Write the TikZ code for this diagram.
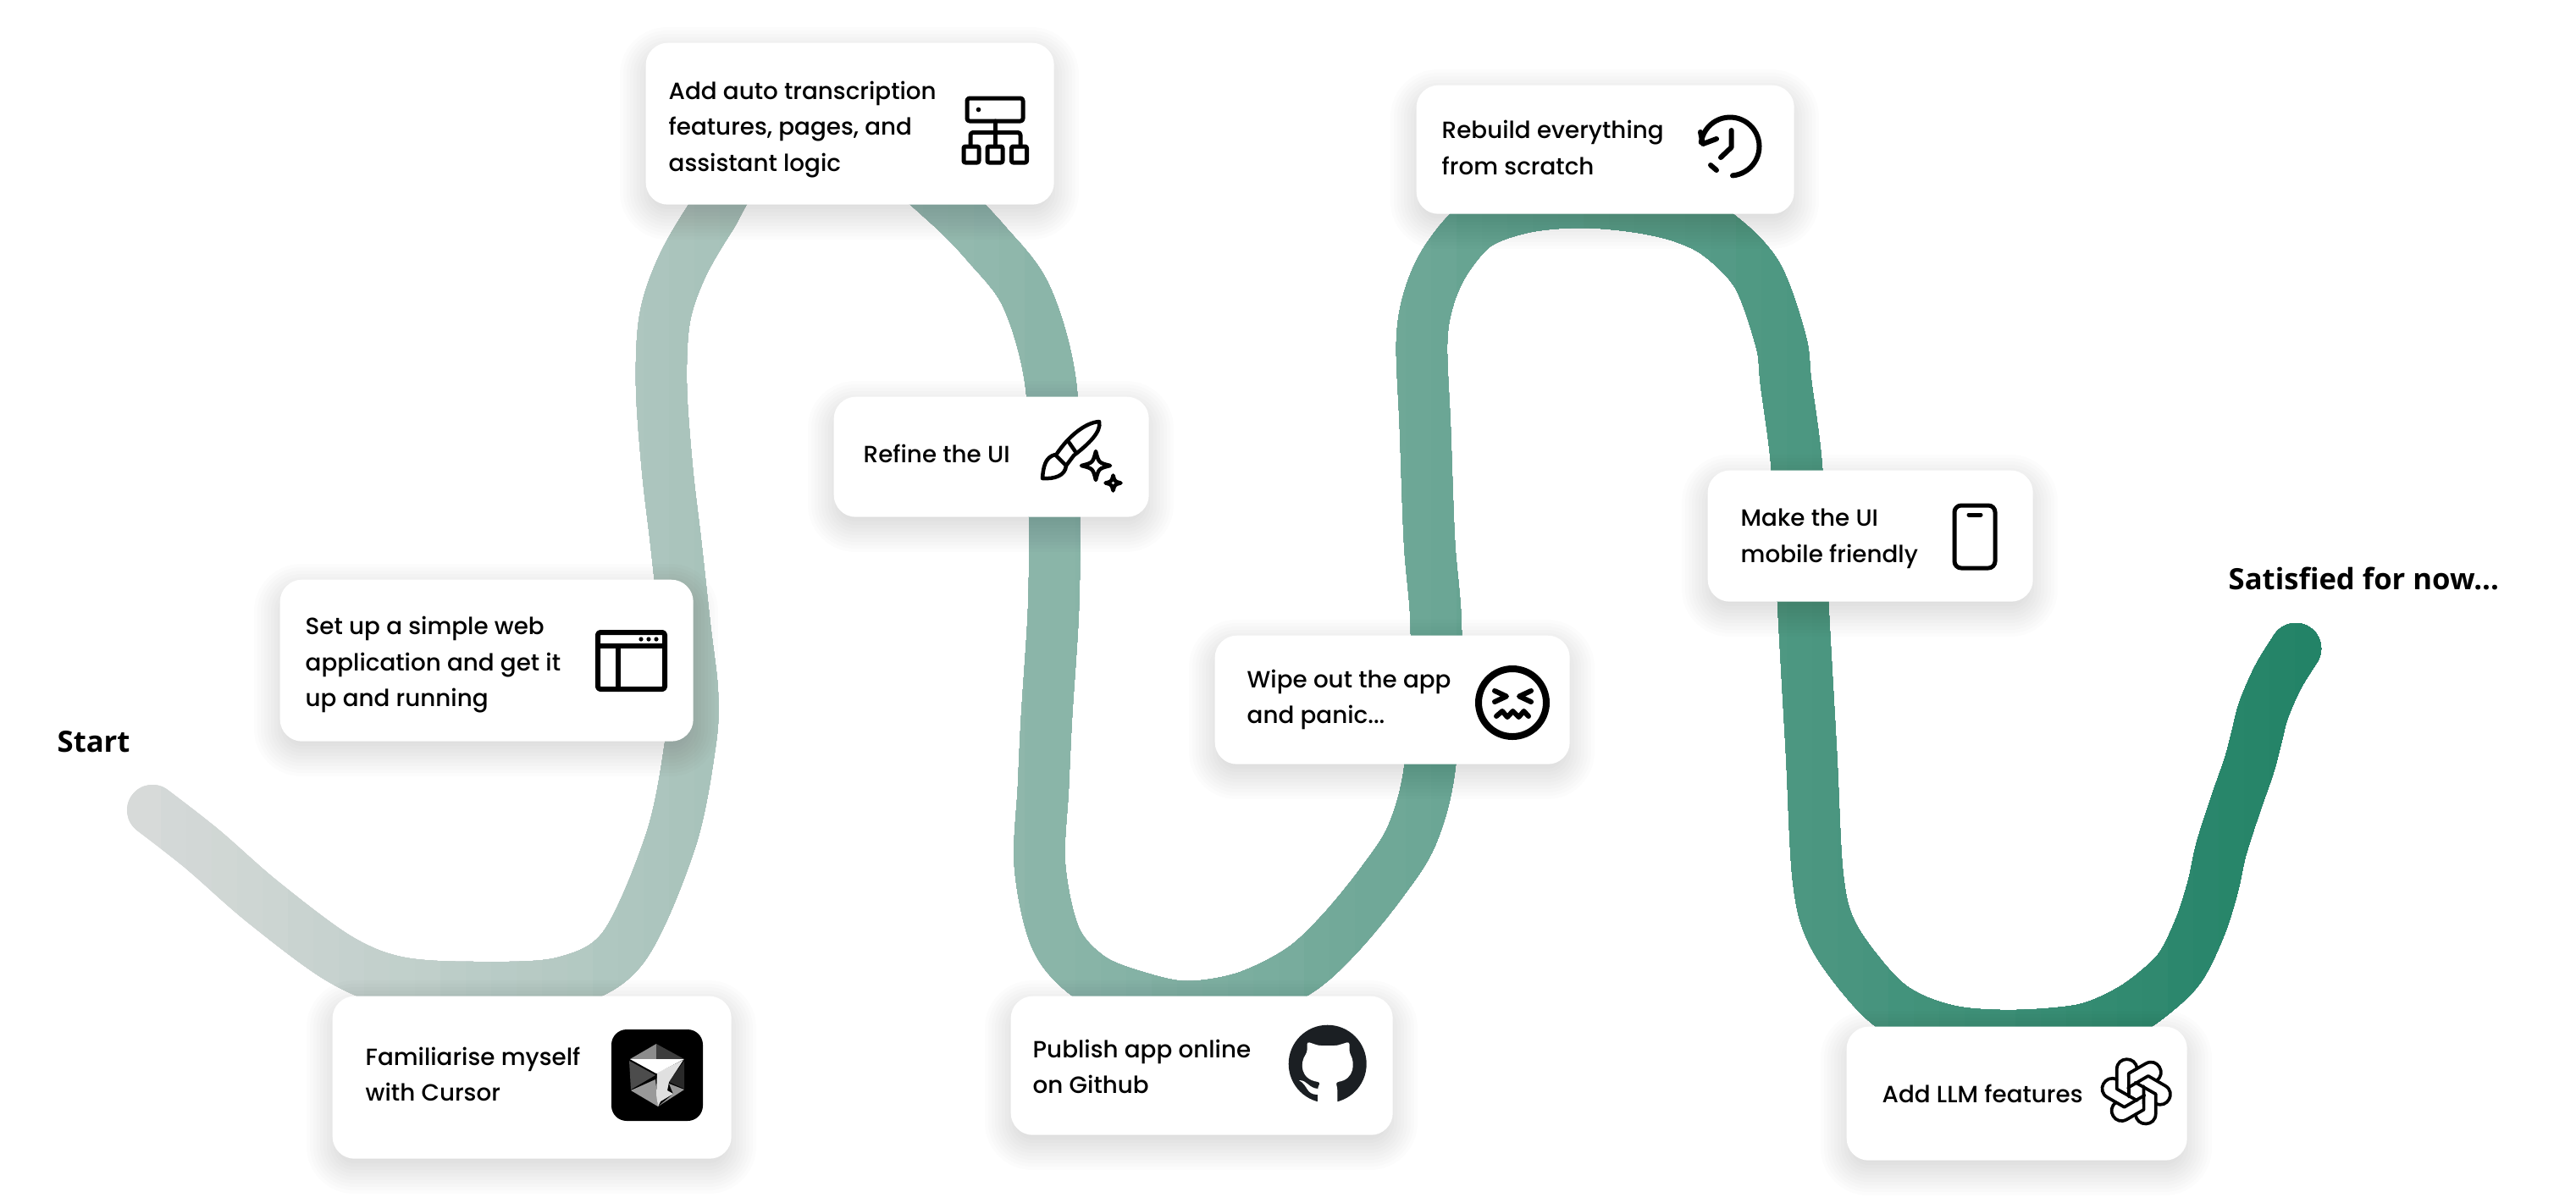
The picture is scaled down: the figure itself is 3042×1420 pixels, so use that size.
\documentclass[tikz,border=0pt]{standalone}
\usepackage{fontspec}
\setmainfont{Poppins}[UprightFont = * Medium]
\newfontfamily\labelfont{Open Sans}
\definecolor{routestart}{RGB}{215,218,217}
\definecolor{routeend}{RGB}{35,131,103}
\definecolor{octocat}{RGB}{27,31,35}
\tikzset{
	route/.style = {line width = 0.6cm, line cap = round, line join = round},
	card/.style = {fill = white, rounded corners = 0.26cm, inner sep = 0pt, anchor = north west},
	cardtext/.style = {inner sep = 0pt, anchor = base west, align = left, font = \fontsize{7.9}{11.95}\selectfont},
	endlabel/.style = {inner sep = 0pt, anchor = base west, font = \labelfont\bfseries\fontsize{9.85}{12}\selectfont},
	icon/.style = {draw = black, line width = 0.05cm, line cap = round, line join = round}
}
\def\routepath{plot[smooth, tension = 0.55] coordinates {
	(180,957) (239,1003) (310,1065) (400,1132) (470,1160) (563,1166) (666,1160) (736,1119)
	(792,993) (815,880) (818,819) (809,740) (798,640) (788,554) (781,455) (785,376) (805,316)
	(839,257) (880,200) (980,175) (1060,195) (1119,241) (1165,288) (1212,350) (1241,455)
	(1245,610) (1244,720) (1236,846) (1232,930) (1228,1023) (1247,1109) (1288,1155) (1345,1178) (1402,1189)
	(1470,1178) (1535,1146) (1582,1103) (1632,1042) (1668,985) (1689,902) (1696,749) (1688,640) (1683,506)
	(1679,404) (1688,350) (1709,305) (1745,265) (1800,245) (1865,239) (1930,244) (1985,256) (2030,278) (2075,325)
	(2103,403) (2109,452) (2122,555) (2129,710) (2139,889) (2147,1038) (2165,1105) (2214,1171)
	(2254,1201) (2310,1219) (2382,1223) (2460,1216) (2510,1196) (2545,1172) (2575,1142) (2598,1095) (2613,1048)
	(2623,1003) (2640,950) (2656,904) (2665,870) (2673,839) (2690,800) (2711,766)}}
% name, left, top, width, height
\newcommand{\card}[5]{
	\foreach \spread in {30,26,...,-10} {
		\pgfmathsetmacro{\shadowrad}{max(26 + \spread, 8)}
		\fill[black, opacity = 0.01, rounded corners = \shadowrad*0.01cm]
			(#2-\spread, #3-\spread+12) rectangle (#2+#4+\spread, #3+#5+\spread+12);
	}
	\node[card, minimum width = #4*0.01cm, minimum height = #5*0.01cm] (#1) at (#2,#3) {};
}
\newcommand{\sparkle}[3]{
	\draw[icon, line width = 0.045cm] (#1,#2-#3)
		.. controls (#1+0.2*#3,#2-0.2*#3) .. (#1+#3,#2)
		.. controls (#1+0.2*#3,#2+0.2*#3) .. (#1,#2+#3)
		.. controls (#1-0.2*#3,#2+0.2*#3) .. (#1-#3,#2)
		.. controls (#1-0.2*#3,#2-0.2*#3) .. cycle;
}
\begin{document}
\begin{tikzpicture}[x = 0.01cm, y = -0.01cm]
	\useasboundingbox (0,0) rectangle (3042,1420);
	% the route, one colour per slice
	\foreach \slicex in {100,130,...,2770} {
		\pgfmathtruncatemacro{\routemix}{min(100, max(0, (\slicex + 15 - 150)/25.5))}
		\begin{scope}
			\clip (\slicex,0) rectangle (3042,1420);
			\draw[route, color = routeend!\routemix!routestart] \routepath;
		\end{scope}
	}
	% end labels
	\node[endlabel] (start) at (67,888) {Start};
	\node[endlabel] (satisfied) at (2631,696) {Satisfied for now...};
	% cards
	\card{setup}{330}{684}{488}{191}
	\card{cursor}{392}{1176}{471}{192}
	\card{addauto}{762}{50}{482}{191}
	\card{refine}{984}{468}{372}{142}
	\card{wipe}{1434}{750}{419}{152}
	\card{github}{1193}{1176}{451}{164}
	\card{rebuild}{1672}{100}{446}{152}
	\card{mobile}{2016}{555}{384}{155}
	\card{llm}{2180}{1212}{402}{158}
	% card texts, placed by their last line
	\node[cardtext] (setuptext) at (360,834) {Set up a simple web\\application and get it\\up and running};
	\node[cardtext] (cursortext) at (431,1300) {Familiarise myself\\with Cursor};
	\node[cardtext] (addautotext) at (789,202) {Add auto transcription\\features, pages, and\\assistant logic};
	\node[cardtext] (refinetext) at (1019,546) {Refine the UI};
	\node[cardtext] (wipetext) at (1472,854) {Wipe out the app\\and panic...};
	\node[cardtext] (githubtext) at (1219,1291) {Publish app online\\on Github};
	\node[cardtext] (rebuildtext) at (1702,206) {Rebuild everything\\from scratch};
	\node[cardtext] (mobiletext) at (2055,664) {Make the UI\\mobile friendly};
	\node[cardtext] (llmtext) at (2222,1302) {Add LLM features};
	% window icon
	\draw[icon, line width = 0.06cm, rounded corners = 0.03cm] (706,747) rectangle (785,814);
	\draw[icon, line width = 0.06cm] (706,763) -- (785,763) (730,763) -- (730,814);
	\foreach \dotx in {757,766,775} {
		\fill (\dotx,755) circle (2.6);
	}
	% cursor icon
	\fill[black, rounded corners = 0.18cm] (722,1216) rectangle (830,1324);
	\fill[black!45] (775,1233) -- (744,1251) -- (775,1251) -- cycle;
	\fill[black!76] (775,1233) -- (808,1251) -- (775,1251) -- cycle;
	\fill[black!70] (743,1253) -- (774,1270) -- (745,1287) -- cycle;
	\fill[black!40] (745,1288) -- (774,1275) -- (776,1295) -- (777,1307) -- cycle;
	\fill[black!84] (808,1253) -- (808,1286) -- (790,1278) -- cycle;
	\fill[black!40] (790,1280) -- (808,1287) -- (777,1307) -- (795,1292) -- cycle;
	\fill[black!12] (776,1267) -- (807,1252) -- (790,1278) -- (788,1288) -- (795,1292) -- (780,1301) -- (777,1307) -- (775,1293) -- cycle;
	\fill[white] (744,1251) -- (808,1251) -- (775,1268) -- cycle;
	% hierarchy icon
	\draw[icon, rounded corners = 0.03cm] (1142,116) rectangle (1208,143);
	\fill (1155.5,129.5) circle (2.8);
	\draw[icon] (1175.5,143) -- (1175.5,172);
	\draw[icon, rounded corners = 0.03cm] (1146,172) -- (1146,156.5) -- (1205,156.5) -- (1205,172);
	\foreach \boxx in {1136,1164,1192.5} {
		\draw[icon, rounded corners = 0.02cm] (\boxx+2,173) rectangle (\boxx+20,192);
	}
	% brush icon
	\draw[icon, line width = 0.045cm] (1248,536) .. controls (1262,515) and (1282,499) .. (1298,498)
		.. controls (1301,510) and (1285,525) .. (1268,538) -- (1259,550);
	\draw[icon, line width = 0.045cm] (1262,522) -- (1271,535);
	\draw[icon, line width = 0.045cm] (1246,537) .. controls (1234,540) and (1232,552) .. (1231,565)
		.. controls (1245,566) and (1258,562) .. (1259,550) -- cycle;
	\sparkle{1294}{550}{17}
	\sparkle{1314.5}{570.5}{9}
	% face icon
	\draw[icon, line width = 0.08cm] (1786,830) circle (40);
	\draw[icon, line width = 0.06cm] (1765,816) -- (1779,822.5) -- (1765,829);
	\draw[icon, line width = 0.06cm] (1808,816) -- (1794,822.5) -- (1808,829);
	\draw[icon, line width = 0.06cm] (1767,846) -- (1774,840) -- (1780,847) -- (1786.5,840) -- (1793.5,847) -- (1799.5,840) -- (1805,846);
	% github icon
	\fill[octocat] (1567.7,1256.7) circle (46);
	\fill[white, rounded corners = 0.03cm] (1543.5,1230.5) -- (1557.3,1235) -- (1578.7,1235) -- (1593.5,1230.5) -- (1593.5,1243.3)
		.. controls (1600,1255) and (1600,1275) .. (1577.3,1278.3)
		-- (1579.3,1285) -- (1579.3,1305) -- (1556,1305) -- (1556,1285) -- (1559.3,1278.3)
		.. controls (1535,1275) and (1535,1255) .. (1543.5,1243.3) -- cycle;
	\fill[white] (1534,1276) .. controls (1544,1276) and (1545,1285) .. (1556,1286) -- (1556,1293)
		.. controls (1542,1293) and (1545,1282) .. (1534,1276) -- cycle;
	% clock icon
	\draw[icon, line width = 0.06cm] plot[domain = 172:-85, samples = 40] ({2043+34.5*cos(\x)},{173-34.5*sin(\x)});
	\draw[icon, line width = 0.06cm] (2008,156) -- (2011,170) -- (2027,164);
	\draw[icon, line width = 0.06cm] (2044.6,154) -- (2044.6,174) -- (2032,186);
	\draw[icon, line width = 0.06cm] (2020,195) -- (2027,201);
	% phone icon
	\draw[icon, rounded corners = 0.08cm] (2308,597) rectangle (2356,671);
	\draw[icon] (2325,608) -- (2339,608);
	% knot icon
	\foreach \knotangle in {0,60,...,300} {
		\begin{scope}[shift = {(2522.7,1289.3)}, rotate = \knotangle]
			\draw[icon, line width = 0.037cm] (1,10.7) -- (-23,-3) -- (-23,-26)
				.. controls (-23,-42) and (0,-42) .. (0.7,-27);
		\end{scope}
	}
\end{tikzpicture}
\end{document}
